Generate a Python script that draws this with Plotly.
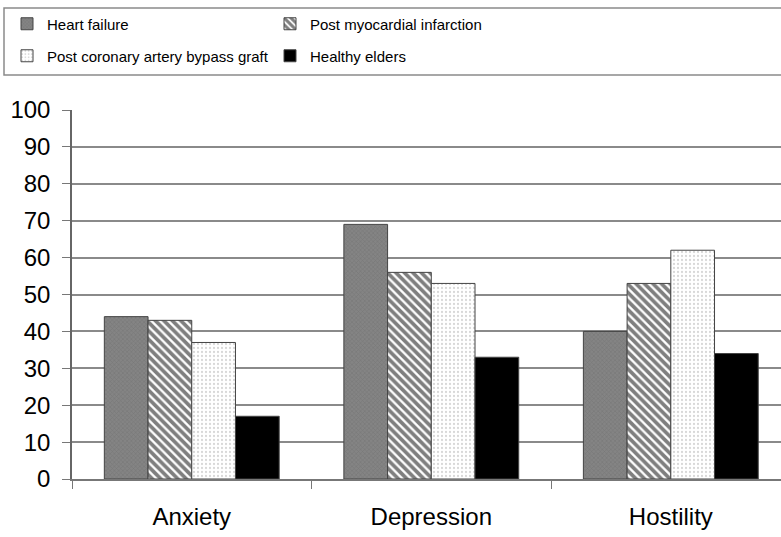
import plotly.graph_objects as go

categories = ["Anxiety", "Depression", "Hostility"]
series_names = ["Heart failure", "Post myocardial infarction",
                "Post coronary artery bypass graft", "Healthy elders"]
heart_failure = [44, 69, 40]
post_mi = [43, 56, 53]
post_cabg = [37, 53, 62]
healthy_elders = [17, 33, 34]
y_ticks = [0, 10, 20, 30, 40, 50, 60, 70, 80, 90, 100]

values = [heart_failure, post_mi, post_cabg, healthy_elders]
styles = [
    dict(color="#808080", pattern=dict(shape="x", fgcolor="#666666", bgcolor="#848484", size=3, solidity=0.3)),
    dict(color="white", pattern=dict(shape="\\", fgcolor="black", bgcolor="white", size=6, solidity=0.62)),
    dict(color="white", pattern=dict(shape=".", fgcolor="#b0b0b0", bgcolor="white", size=4, solidity=0.25)),
    dict(color="black"),
]
legends = ["legend", "legend", "legend2", "legend2"]

fig = go.Figure()
for name, vals, st, lg in zip(series_names, values, styles, legends):
    fig.add_trace(go.Bar(
        x=categories, y=vals, name=name, legend=lg,
        marker=dict(**st, line=dict(color="#444444", width=1)),
    ))

FONT = "Liberation Sans, Arial, sans-serif"
legend_common = dict(
    orientation="h", xref="container", yref="container",
    xanchor="left", yanchor="middle",
    entrywidth=218, entrywidthmode="pixels",
    font=dict(family=FONT, size=15, color="black"),
    bgcolor="rgba(0,0,0,0)", itemwidth=30,
)
fig.update_layout(
    width=781, height=537,
    margin=dict(l=72, r=0, t=110, b=58),
    paper_bgcolor="white", plot_bgcolor="white",
    barmode="group", bargap=0.27, bargroupgap=0,
    font=dict(family=FONT, color="black"),
    legend=dict(**legend_common, x=7 / 781, y=1 - 24 / 537),
    legend2=dict(**legend_common, x=7 / 781, y=1 - 56 / 537),
    xaxis=dict(
        type="category", range=[-0.5, 2.46],
        tickson="boundaries", ticks="outside", ticklen=8, tickcolor="#777",
        showline=True, linecolor="#777", linewidth=1.5,
        tickfont=dict(size=24, color="black"), ticklabelstandoff=15,
        showgrid=False,
    ),
    yaxis=dict(
        range=[0, 100], tickvals=y_ticks, ticks="outside", ticklen=8,
        tickcolor="#777", showline=True, linecolor="#666", linewidth=1.5,
        showgrid=True, gridcolor="#8a8a8a", gridwidth=1.5, zeroline=False,
        tickfont=dict(size=24, color="black"), ticklabelstandoff=7,
    ),
    shapes=[dict(type="rect", xref="paper", yref="paper",
                 x0=(4 - 72) / 709, x1=1.05, y0=(479 - 75) / 369, y1=(479 - 8) / 369,
                 line=dict(color="#8a8a8a", width=1.5), fillcolor="rgba(0,0,0,0)")],
)

fig.write_html("out.html", config={"displayModeBar": False},
               post_script="document.body.style.margin='0';")
